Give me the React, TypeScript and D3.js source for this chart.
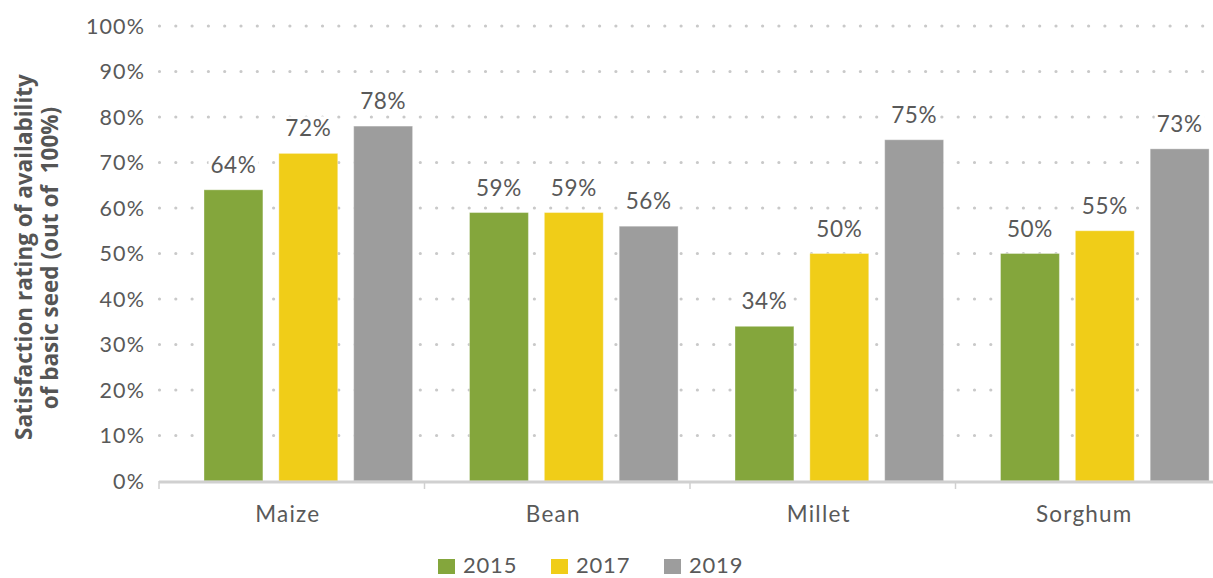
import React, { useEffect, useRef } from "react";
import * as d3 from "d3";

const categories = ["Maize", "Bean", "Millet", "Sorghum"];
const years = ["2015", "2017", "2019"];
const values2015 = [64, 59, 34, 50];
const values2017 = [72, 59, 50, 55];
const values2019 = [78, 56, 75, 73];
const yTicks = [0, 10, 20, 30, 40, 50, 60, 70, 80, 90, 100];
const colors = ["#84a63c", "#f0cd18", "#9d9d9d"];
const yTitle = ["Satisfaction rating of availability", "of basic seed (out of  100%)"];

const W = 1213;
const H = 578;
const FONT = "Lato, 'Noto Sans', sans-serif";
const TITLE_FONT = "'Open Sans', 'Noto Sans', sans-serif";

export default function App() {
  const ref = useRef<SVGSVGElement | null>(null);

  useEffect(() => {
    const svg = d3.select(ref.current);
    svg.selectAll("*").remove();

    const left = 159;
    const plotBottom = 481;
    const plotTop = 26;
    const bandW = 265.5;

    const series = [values2015, values2017, values2019];
    const y = d3.scaleLinear().domain([0, 100]).range([plotBottom, plotTop]);
    const x0 = d3
      .scaleBand<string>()
      .domain(categories)
      .range([left, left + bandW * categories.length])
      .padding(0);
    const x1 = d3
      .scaleBand<string>()
      .domain(years)
      .range([45, 253.6])
      .paddingInner(0.213)
      .paddingOuter(0);

    // gridlines
    svg
      .append("g")
      .selectAll("line")
      .data(yTicks.filter((t) => t > 0))
      .join("line")
      .attr("x1", left + 0.5)
      .attr("x2", W)
      .attr("y1", (d) => y(d))
      .attr("y2", (d) => y(d))
      .attr("stroke", "#c9c9c9")
      .attr("stroke-width", 3.2)
      .attr("stroke-linecap", "round")
      .attr("stroke-dasharray", "0 16.3");

    // y tick labels
    svg
      .append("g")
      .selectAll("text")
      .data(yTicks)
      .join("text")
      .attr("x", 145)
      .attr("y", (d) => y(d))
      .attr("dy", "0.36em")
      .attr("text-anchor", "end")
      .attr("font-family", FONT)
      .attr("font-size", 21.5)
      .attr("letter-spacing", 1.1)
      .attr("fill", "#595959")
      .text((d) => `${d}%`);

    // bars
    const g = svg.append("g");
    const lg = svg.append("g");
    categories.forEach((c, ci) => {
      years.forEach((yr, si) => {
        const v = series[si][ci];
        const bx = (x0(c) as number) + (x1(yr) as number);
        g.append("rect")
          .attr("x", bx)
          .attr("y", y(v))
          .attr("width", x1.bandwidth())
          .attr("height", plotBottom - y(v))
          .attr("fill", colors[si])
          .attr("stroke", "#ffffff")
          .attr("stroke-opacity", 0.35)
          .attr("stroke-width", 1);
        const bg = lg.append("rect").attr("fill", "#ffffff");
        const t = lg
          .append("text")
          .attr("x", bx + x1.bandwidth() / 2)
          .attr("y", y(v) - 17)
          .attr("text-anchor", "middle")
          .attr("font-family", FONT)
          .attr("font-size", 22.5)
          .attr("letter-spacing", 0.6)
          .attr("fill", "#595959")
          .text(`${v}%`);
        const bb = (t.node() as SVGTextElement).getBBox();
        bg.attr("x", bb.x - 2)
          .attr("y", bb.y + 2)
          .attr("width", bb.width + 4)
          .attr("height", bb.height - 4);
      });
    });

    // x axis line
    svg
      .append("line")
      .attr("x1", left)
      .attr("x2", W)
      .attr("y1", plotBottom + 1)
      .attr("y2", plotBottom + 1)
      .attr("stroke", "#d0d0d0")
      .attr("stroke-width", 3);

    // ticks at band boundaries
    const bounds = categories.map((c) => x0(c) as number);
    svg
      .append("g")
      .selectAll("line")
      .data(bounds)
      .join("line")
      .attr("x1", (d) => d)
      .attr("x2", (d) => d)
      .attr("y1", plotBottom)
      .attr("y2", plotBottom + 8)
      .attr("stroke", "#d0d0d0")
      .attr("stroke-width", 1.5);

    // category labels
    svg
      .append("g")
      .selectAll("text")
      .data(categories)
      .join("text")
      .attr("x", (d) => (x0(d) as number) + x0.bandwidth() / 2 - 4)
      .attr("y", 522)
      .attr("text-anchor", "middle")
      .attr("font-family", FONT)
      .attr("font-size", 22.5)
      .attr("letter-spacing", 1.2)
      .attr("fill", "#595959")
      .text((d) => d);

    // y title
    yTitle.forEach((t, i) => {
      svg
        .append("text")
        .attr("transform", `translate(${32 + i * 26},${257 + i * 1}) rotate(-90)`)
        .attr("text-anchor", "middle")
        .attr("font-family", TITLE_FONT)
        .attr("font-weight", 700)
        .attr("font-size", 22.5)
        .attr("fill", "#555555")
        .attr("xml:space", "preserve")
        .style("white-space", "pre")
        .text(t);
    });

    // legend
    const legendX = [438, 551, 664];
    years.forEach((yr, i) => {
      svg
        .append("rect")
        .attr("x", legendX[i])
        .attr("y", 559)
        .attr("width", 17)
        .attr("height", 15)
        .attr("fill", colors[i]);
      svg
        .append("text")
        .attr("x", legendX[i] + 25)
        .attr("y", 573)
        .attr("font-family", FONT)
        .attr("font-size", 22)
        .attr("letter-spacing", 0.8)
        .attr("fill", "#595959")
        .text(yr);
    });
  }, []);

  return (
    <svg
      ref={ref}
      width={W}
      height={H}
      style={{ position: "absolute", left: 0, top: 0, background: "#ffffff" }}
    />
  );
}
